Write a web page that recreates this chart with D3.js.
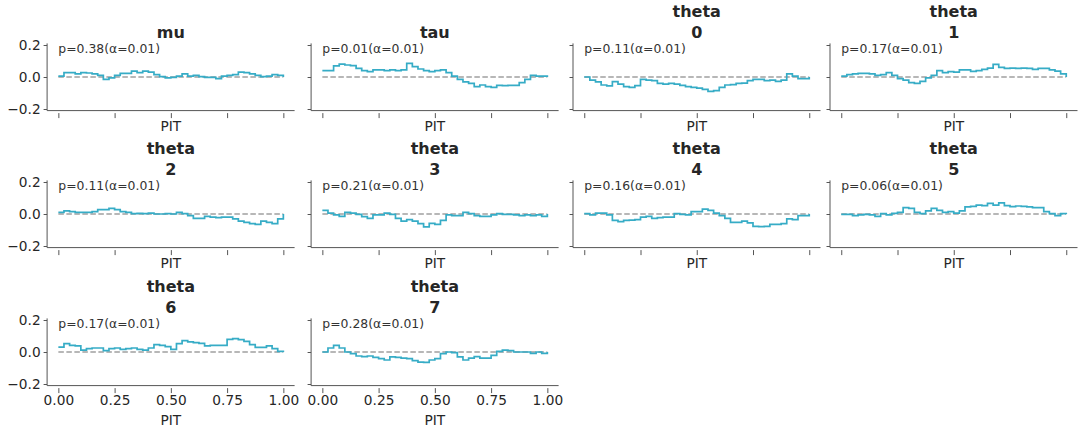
<!DOCTYPE html>
<html>
<head>
<meta charset="utf-8">
<script src="https://cdn.jsdelivr.net/npm/d3@7"></script>
<style>
  body { margin: 0; background: #fff; }
  svg { display: block; font-family: "DejaVu Sans", sans-serif; }
</style>
</head>
<body>
<svg id="chart" width="1080" height="430"></svg>
<script>
// panel titles (lines), p-values
const titles = [["mu"], ["tau"], ["theta", "0"], ["theta", "1"], ["theta", "2"],
                ["theta", "3"], ["theta", "4"], ["theta", "5"], ["theta", "6"], ["theta", "7"]];
const pValues = ["0.38", "0.01", "0.11", "0.17", "0.11", "0.21", "0.16", "0.06", "0.17", "0.28"];
const alphaLabel = "0.01";

// PIT points the curves were read at (every 0.025)
const pit = d3.range(41).map(i => i / 40);

// ECDF difference
const muDiff = [0.005,0.027,0.027,0.019,0.027,0.025,0.019,0.01,-0.015,-0.006,0.01,0.023,0.023,0.037,0.027,0.037,0.031,0.015,0.002,-0.006,-0.002,0.006,0.019,0.006,0.01,0.002,-0.002,-0.002,-0.01,0.006,0.01,0.015,0.031,0.027,0.019,0.01,0.002,0.006,0.015,0.01,0];
const tauDiff = [0.04,0.04,0.069,0.081,0.075,0.071,0.054,0.04,0.033,0.044,0.044,0.04,0.044,0.04,0.044,0.085,0.065,0.05,0.04,0.033,0.04,0.044,0.027,0.006,-0.015,-0.031,-0.04,-0.06,-0.05,-0.06,-0.065,-0.052,-0.054,-0.052,-0.052,-0.035,-0.015,0.01,0.006,0.006,0];
const theta0Diff = [0,-0.019,-0.031,-0.05,-0.056,-0.029,-0.044,-0.06,-0.065,-0.054,-0.015,-0.019,-0.023,-0.04,-0.044,-0.04,-0.044,-0.052,-0.06,-0.065,-0.069,-0.077,-0.09,-0.085,-0.065,-0.05,-0.048,-0.04,-0.038,-0.023,-0.015,-0.015,-0.023,-0.019,-0.027,-0.019,0.019,0.006,-0.01,-0.01,0];
const theta1Diff = [0.006,0.015,0.019,0.023,0.023,0.019,0.01,0.015,0.027,0.01,-0.01,-0.019,-0.035,-0.04,-0.027,-0.006,0.01,0.04,0.027,0.033,0.031,0.044,0.044,0.035,0.04,0.048,0.056,0.079,0.06,0.054,0.056,0.054,0.056,0.054,0.048,0.054,0.054,0.044,0.037,0.019,0];
const theta2Diff = [0.01,0.019,0.015,0.01,0.01,0.01,0.015,0.027,0.027,0.035,0.027,0.015,0.01,0.002,0.004,0.002,0.006,0,0,0.002,0,0.01,0.002,-0.01,-0.027,-0.027,-0.015,-0.019,-0.023,-0.019,-0.019,-0.031,-0.044,-0.052,-0.06,-0.065,-0.044,-0.052,-0.06,-0.031,0];
const theta3Diff = [0.023,0.006,-0.006,-0.015,0.01,0.006,-0.002,-0.017,-0.027,-0.006,-0.006,0.006,-0.002,-0.027,-0.044,-0.035,-0.044,-0.06,-0.081,-0.058,-0.065,-0.04,-0.006,-0.01,-0.01,0.01,0.002,-0.01,-0.015,-0.015,-0.006,0.002,-0.002,-0.002,-0.006,-0.01,-0.006,-0.01,-0.006,-0.015,0];
const theta4Diff = [0.002,-0.006,0.006,0.006,-0.006,-0.04,-0.048,-0.04,-0.038,-0.035,-0.019,-0.015,-0.027,-0.023,-0.019,-0.019,0.002,-0.002,-0.006,0.015,0.015,0.031,0.023,0.006,-0.01,-0.027,-0.052,-0.052,-0.044,-0.056,-0.077,-0.079,-0.077,-0.065,-0.065,-0.06,-0.031,-0.035,-0.01,-0.01,0];
const theta5Diff = [-0.002,-0.002,-0.01,-0.006,-0.002,-0.006,-0.015,0.002,-0.006,0.004,0.01,0.04,0.035,0.01,0.002,0.019,0.035,0.023,0.01,0.015,0.006,0.019,0.044,0.048,0.056,0.052,0.067,0.056,0.069,0.052,0.046,0.05,0.048,0.044,0.04,0.04,0.015,0.002,-0.01,0.002,0];
const theta6Diff = [0.031,0.052,0.042,0.038,0.012,0.021,0.025,0.025,0.008,0.021,0.025,0.017,0.021,0.025,0.017,0.012,0.025,0.046,0.042,0.033,0.017,0.052,0.071,0.063,0.058,0.054,0.038,0.042,0.042,0.042,0.079,0.083,0.077,0.067,0.046,0.029,0.029,0.038,0.021,0.004,0];
const theta7Diff = [0,0.025,0.042,0.025,0,-0.01,-0.025,-0.029,-0.025,-0.033,-0.042,-0.05,-0.031,-0.033,-0.038,-0.042,-0.054,-0.063,-0.065,-0.05,-0.042,-0.01,0,-0.004,-0.031,-0.05,-0.038,-0.029,-0.038,-0.038,-0.021,0.004,0.012,0.008,0,0,0,-0.008,0,-0.008,0];

const series = [muDiff, tauDiff, theta0Diff, theta1Diff, theta2Diff,
                theta3Diff, theta4Diff, theta5Diff, theta6Diff, theta7Diff];
const xTicks = [0, 0.25, 0.5, 0.75, 1];
const yTicks = [-0.2, 0, 0.2];

// layout
const colLeft = [47.1, 311.1, 573, 830];
const rowZero = [77, 214, 352];
const axW = 247.5, yHalf = 33.6;
const lineColor = "#36acc6", spineColor = "#555", textColor = "#262626";

const svg = d3.select("#chart");
svg.append("rect").attr("width", 1080).attr("height", 430).attr("fill", "#fff");

series.forEach((vals, i) => {
    const col = i % 4, row = Math.floor(i / 4),
        left = colLeft[col], zero = rowZero[row],
        top = zero - yHalf, bottom = zero + yHalf;
    const x = d3.scaleLinear().domain([-0.05, 1.05]).range([left, left + axW]);
    const y = d3.scaleLinear().domain([-0.21, 0.21]).range([bottom, top]);
    const g = svg.append("g").attr("class", "panel");

    // zero reference
    g.append("line")
        .attr("x1", x(0)).attr("x2", x(1)).attr("y1", y(0)).attr("y2", y(0))
        .attr("stroke", "#a0a0a0").attr("stroke-width", 1.6).attr("stroke-dasharray", "5.5 2.5");

    // ecdf difference
    const line = d3.line().x((d, k) => x(pit[k])).y(d => y(d)).curve(d3.curveStepAfter);
    g.append("path").datum(vals)
        .attr("d", line).attr("fill", "none")
        .attr("stroke", lineColor).attr("stroke-width", 1.7);

    // y axis
    const yAx = g.append("g").attr("transform", `translate(${left},0)`)
        .call(d3.axisLeft(y).tickValues(yTicks).tickSize(3.5).tickSizeOuter(0).tickPadding(3)
            .tickFormat(col === 0 ? d3.format(".1f") : () => ""));
    yAx.select(".domain").remove();
    yAx.selectAll(".tick line").attr("stroke", spineColor);
    yAx.selectAll("text").attr("fill", textColor).attr("font-size", "13.7px")
        .attr("font-family", "DejaVu Sans");

    // x axis (ticks sit slightly below the spine)
    const xAx = g.append("g").attr("transform", `translate(0,${bottom + 2.5})`)
        .call(d3.axisBottom(x).tickValues(xTicks).tickSize(5).tickSizeOuter(0).tickPadding(1.8)
            .tickFormat(row === 2 ? d3.format(".2f") : () => ""));
    xAx.select(".domain").remove();
    xAx.selectAll(".tick line").attr("stroke", spineColor);
    xAx.selectAll("text").attr("fill", textColor).attr("font-size", "13.7px")
        .attr("font-family", "DejaVu Sans");

    // spines
    g.append("line").attr("x1", left).attr("x2", left).attr("y1", top).attr("y2", bottom)
        .attr("stroke", spineColor).attr("stroke-width", 1);
    g.append("line").attr("x1", left).attr("x2", left + axW).attr("y1", bottom).attr("y2", bottom)
        .attr("stroke", spineColor).attr("stroke-width", 1);

    // x label
    g.append("text")
        .attr("x", left + axW / 2).attr("y", bottom + (row === 2 ? 39.7 : 20))
        .attr("text-anchor", "middle").attr("fill", textColor).attr("font-size", "13.7px")
        .text("PIT");

    // p-value note
    g.append("text")
        .attr("x", x(0)).attr("y", zero - 24.5)
        .attr("fill", "#333").attr("font-size", "12.4px")
        .text(`p=${pValues[i]}(α=${alphaLabel})`);

    // title
    const t = titles[i];
    t.forEach((s, j) => {
        g.append("text")
            .attr("x", left + axW / 2)
            .attr("y", top - 5.4 - (t.length - 1 - j) * 21)
            .attr("text-anchor", "middle").attr("font-weight", "bold")
            .attr("font-size", "16px").attr("fill", textColor)
            .text(s);
    });
});
</script>
</body>
</html>
